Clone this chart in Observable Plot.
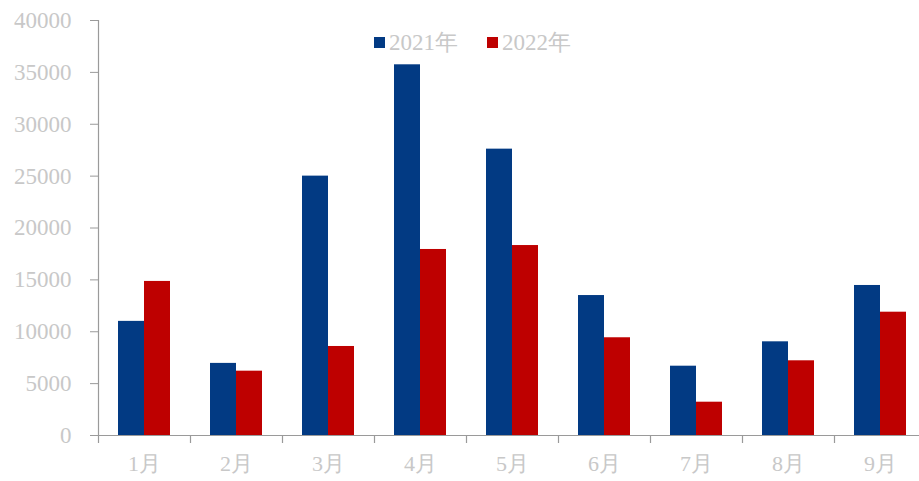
<!DOCTYPE html>
<html>
<head>
<meta charset="utf-8">
<script src="https://cdn.jsdelivr.net/npm/d3@7"></script>
<script src="https://cdn.jsdelivr.net/npm/@observablehq/plot@0.6"></script>
<style>
  html, body { margin: 0; padding: 0; background: #fff; }
  #wrap { position: relative; width: 919px; height: 481px; overflow: hidden; }
  #legend { position: absolute; top: 27px; left: 374px; display: flex; gap: 29px;
    font-family: "Liberation Serif", "Times New Roman", serif; font-size: 23px; color: #c8c8c8; }
  #legend span.item { display: flex; align-items: center; }
  #legend span.sw { width: 11px; height: 11px; display: inline-block; margin-right: 4px; }
</style>
</head>
<body>
<div id="wrap">
  <div id="chart"></div>
  <div id="legend"></div>
</div>
<script>
const months = ["1月","2月","3月","4月","5月","6月","7月","8月","9月"];
const series = ["2021年", "2022年"];
const values2021 = [11000, 6950, 25000, 35730, 27600, 13490, 6680, 9030, 14460];
const values2022 = [14850, 6200, 8580, 17930, 18310, 9420, 3210, 7200, 11885];
const yTicks = [0, 5000, 10000, 15000, 20000, 25000, 30000, 35000, 40000];
const colors = ["#023A83", "#BE0000"];

const d21 = months.map((m, i) => ({month: m, series: series[0], value: values2021[i]}));
const d22 = months.map((m, i) => ({month: m, series: series[1], value: values2022[i]}));

const font = "Liberation Serif, Times New Roman, serif";
const step = 92;

const chart = Plot.plot({
  width: 919,
  height: 481,
  marginTop: 20,
  marginBottom: 46,
  marginLeft: 98,
  marginRight: 0,
  style: {fontFamily: font, fontSize: "22px", color: "#c8c8c8", background: "#fff"},
  x: {domain: months, range: [98, 98 + step * months.length], padding: 0, label: null},
  y: {domain: [0, 40000], label: null},
  marks: [
    Plot.barY(d21, {x: "month", y: "value", fill: colors[0], insetLeft: 20, insetRight: 46}),
    Plot.barY(d22, {x: "month", y: "value", fill: colors[1], insetLeft: 46, insetRight: 20}),
    Plot.ruleX(months, {x: d => d, dx: -step / 2, y1: 0, y2: -770, stroke: "#9a9a9a", strokeWidth: 1.2}),
    Plot.ruleY([0], {stroke: "#9a9a9a", strokeWidth: 1.2}),
    Plot.frame({anchor: "left", stroke: "#9a9a9a", strokeWidth: 1.2}),
    Plot.axisY({ticks: yTicks, tickSize: 8, tickPadding: 19, stroke: "#9a9a9a", fill: "#c8c8c8", fontSize: 23, tickFormat: d => String(d)}),
    Plot.axisX({tickSize: 0, tickPadding: 20, fill: "#c8c8c8", fontSize: 22})
  ]
});
document.getElementById("chart").appendChild(chart);

const legend = document.getElementById("legend");
series.forEach((s, i) => {
  const item = document.createElement("span");
  item.className = "item";
  const sw = document.createElement("span");
  sw.className = "sw";
  sw.style.background = colors[i];
  item.appendChild(sw);
  item.appendChild(document.createTextNode(s));
  legend.appendChild(item);
});
</script>
</body>
</html>
